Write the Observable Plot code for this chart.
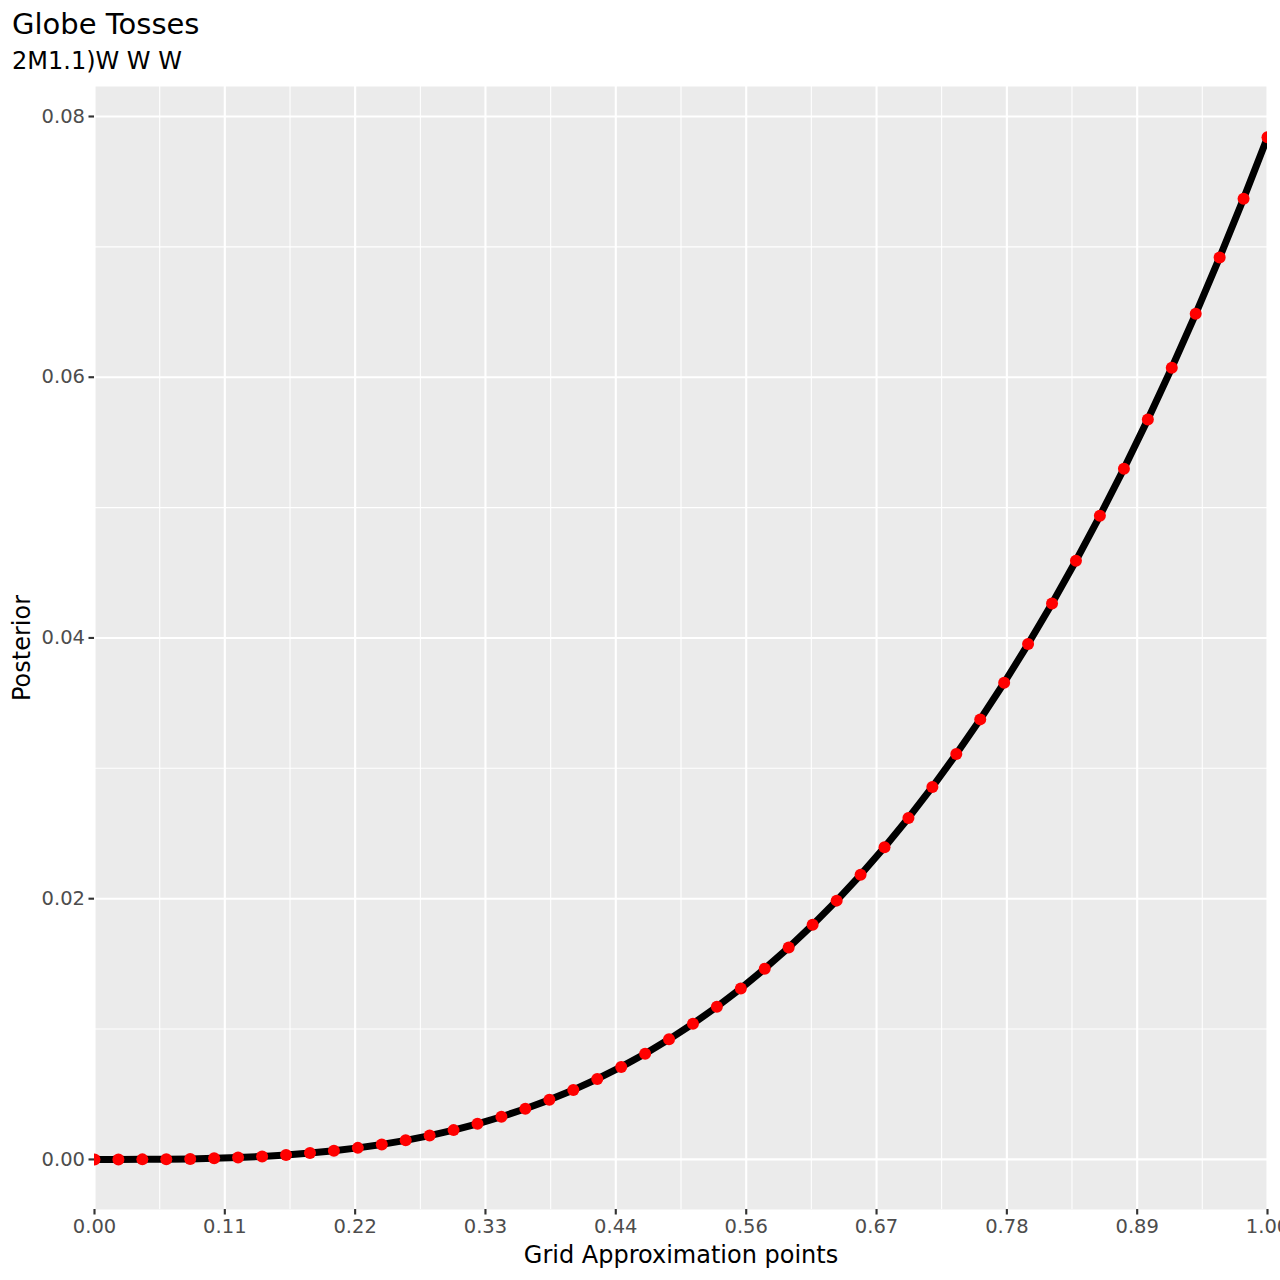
<!DOCTYPE html>
<html><head><meta charset="utf-8">
<script src="https://cdn.jsdelivr.net/npm/d3@7"></script>
<script src="https://cdn.jsdelivr.net/npm/@observablehq/plot@0.6"></script>
<style>
body{margin:0;background:#fff;font-family:"DejaVu Sans",sans-serif;}
#wrap{width:1280px;}
#head{position:relative;height:80px;}
#title{position:absolute;left:12px;top:9.5px;font-size:29px;line-height:29px;color:#000;white-space:nowrap;}
#subtitle{position:absolute;left:12px;top:49px;font-size:24px;line-height:24px;color:#000;white-space:nowrap;}
#chart svg{display:block;}
</style></head>
<body>
<div id="wrap"><div id="head"><div id="title"></div><div id="subtitle"></div></div><div id="chart"></div></div>
<script>
const titleText = "Globe Tosses";
const subtitleText = "2M1.1)W W W";
const xLabel = "Grid Approximation points";
const yLabel = "Posterior";

const gridPoints = [0, 0.0204, 0.0408, 0.0612, 0.0816, 0.1020, 0.1224, 0.1429, 0.1633, 0.1837,
  0.2041, 0.2245, 0.2449, 0.2653, 0.2857, 0.3061, 0.3265, 0.3469, 0.3673, 0.3878,
  0.4082, 0.4286, 0.4490, 0.4694, 0.4898, 0.5102, 0.5306, 0.5510, 0.5714, 0.5918,
  0.6122, 0.6327, 0.6531, 0.6735, 0.6939, 0.7143, 0.7347, 0.7551, 0.7755, 0.7959,
  0.8163, 0.8367, 0.8571, 0.8776, 0.8980, 0.9184, 0.9388, 0.9592, 0.9796, 1];
const posterior = [0, 0.0000007, 0.0000053, 0.0000180, 0.0000426, 0.0000833, 0.000144, 0.000229, 0.000341, 0.000486,
  0.000666, 0.000887, 0.001152, 0.001464, 0.001829, 0.002249, 0.002730, 0.003274, 0.003886, 0.004571,
  0.005331, 0.006171, 0.007096, 0.008108, 0.009212, 0.010412, 0.011712, 0.013117, 0.014629, 0.016253,
  0.017993, 0.019852, 0.021836, 0.023948, 0.026192, 0.028572, 0.031091, 0.033755, 0.036566, 0.039530,
  0.042649, 0.045928, 0.049372, 0.052983, 0.056766, 0.060725, 0.064864, 0.069187, 0.073698, 0.078400];

const xTickValues = [0, 0.1111, 0.2222, 0.3333, 0.4444, 0.5556, 0.6667, 0.7778, 0.8889, 1];
const xTickLabels = ["0.00", "0.11", "0.22", "0.33", "0.44", "0.56", "0.67", "0.78", "0.89", "1.00"];
const xMinorValues = [0.0556, 0.1667, 0.2778, 0.3889, 0.5, 0.6111, 0.7222, 0.8333, 0.9444];
const yTickValues = [0, 0.02, 0.04, 0.06, 0.08];
const yTickLabels = ["0.00", "0.02", "0.04", "0.06", "0.08"];
const yMinorValues = [0.01, 0.03, 0.05, 0.07];

document.getElementById("title").textContent = titleText;
document.getElementById("subtitle").textContent = subtitleText;

const rows = gridPoints.map((p, i) => ({p, post: posterior[i]}));

const chart = Plot.plot({
  width: 1280, height: 1200,
  marginTop: 6, marginBottom: 71, marginLeft: 94, marginRight: 13,
  style: {fontFamily: "DejaVu Sans", background: "#fff", overflow: "visible"},
  x: {domain: [0, 1]},
  y: {domain: [-0.00384, 0.0823]},
  marks: [
    Plot.frame({fill: "#EBEBEB", stroke: null}),
    Plot.gridX(xMinorValues, {stroke: "#fff", strokeOpacity: 1, strokeWidth: 1.07}),
    Plot.gridY(yMinorValues, {stroke: "#fff", strokeOpacity: 1, strokeWidth: 1.07}),
    Plot.gridX(xTickValues, {stroke: "#fff", strokeOpacity: 1, strokeWidth: 2.13}),
    Plot.gridY(yTickValues, {stroke: "#fff", strokeOpacity: 1, strokeWidth: 2.13}),
    Plot.axisX(xTickValues, {tickSize: 5.5, tickPadding: 4, stroke: "#333333", strokeWidth: 2.13,
      fill: "#4D4D4D", fontSize: 19.5, label: null,
      tickFormat: d => xTickLabels[xTickValues.indexOf(d)]}),
    Plot.axisY(yTickValues, {tickSize: 5.5, tickPadding: 4, stroke: "#333333", strokeWidth: 2.13,
      fill: "#4D4D4D", fontSize: 19.5, label: null,
      tickFormat: d => yTickLabels[yTickValues.indexOf(d)]}),
    Plot.line(rows, {x: "p", y: "post", stroke: "black", strokeWidth: 7, clip: true}),
    Plot.dot(rows, {x: "p", y: "post", r: 6, fill: "red", stroke: null, clip: true}),
    Plot.text([yLabel], {frameAnchor: "left", dx: -72, rotate: -90, textAnchor: "middle", text: d => d, fontSize: 24, fill: "black"}),
    Plot.text([xLabel], {frameAnchor: "bottom", dy: 53, textAnchor: "middle", text: d => d, fontSize: 24, fill: "black"})
  ]
});
document.getElementById("chart").appendChild(chart);
</script>
</body></html>
